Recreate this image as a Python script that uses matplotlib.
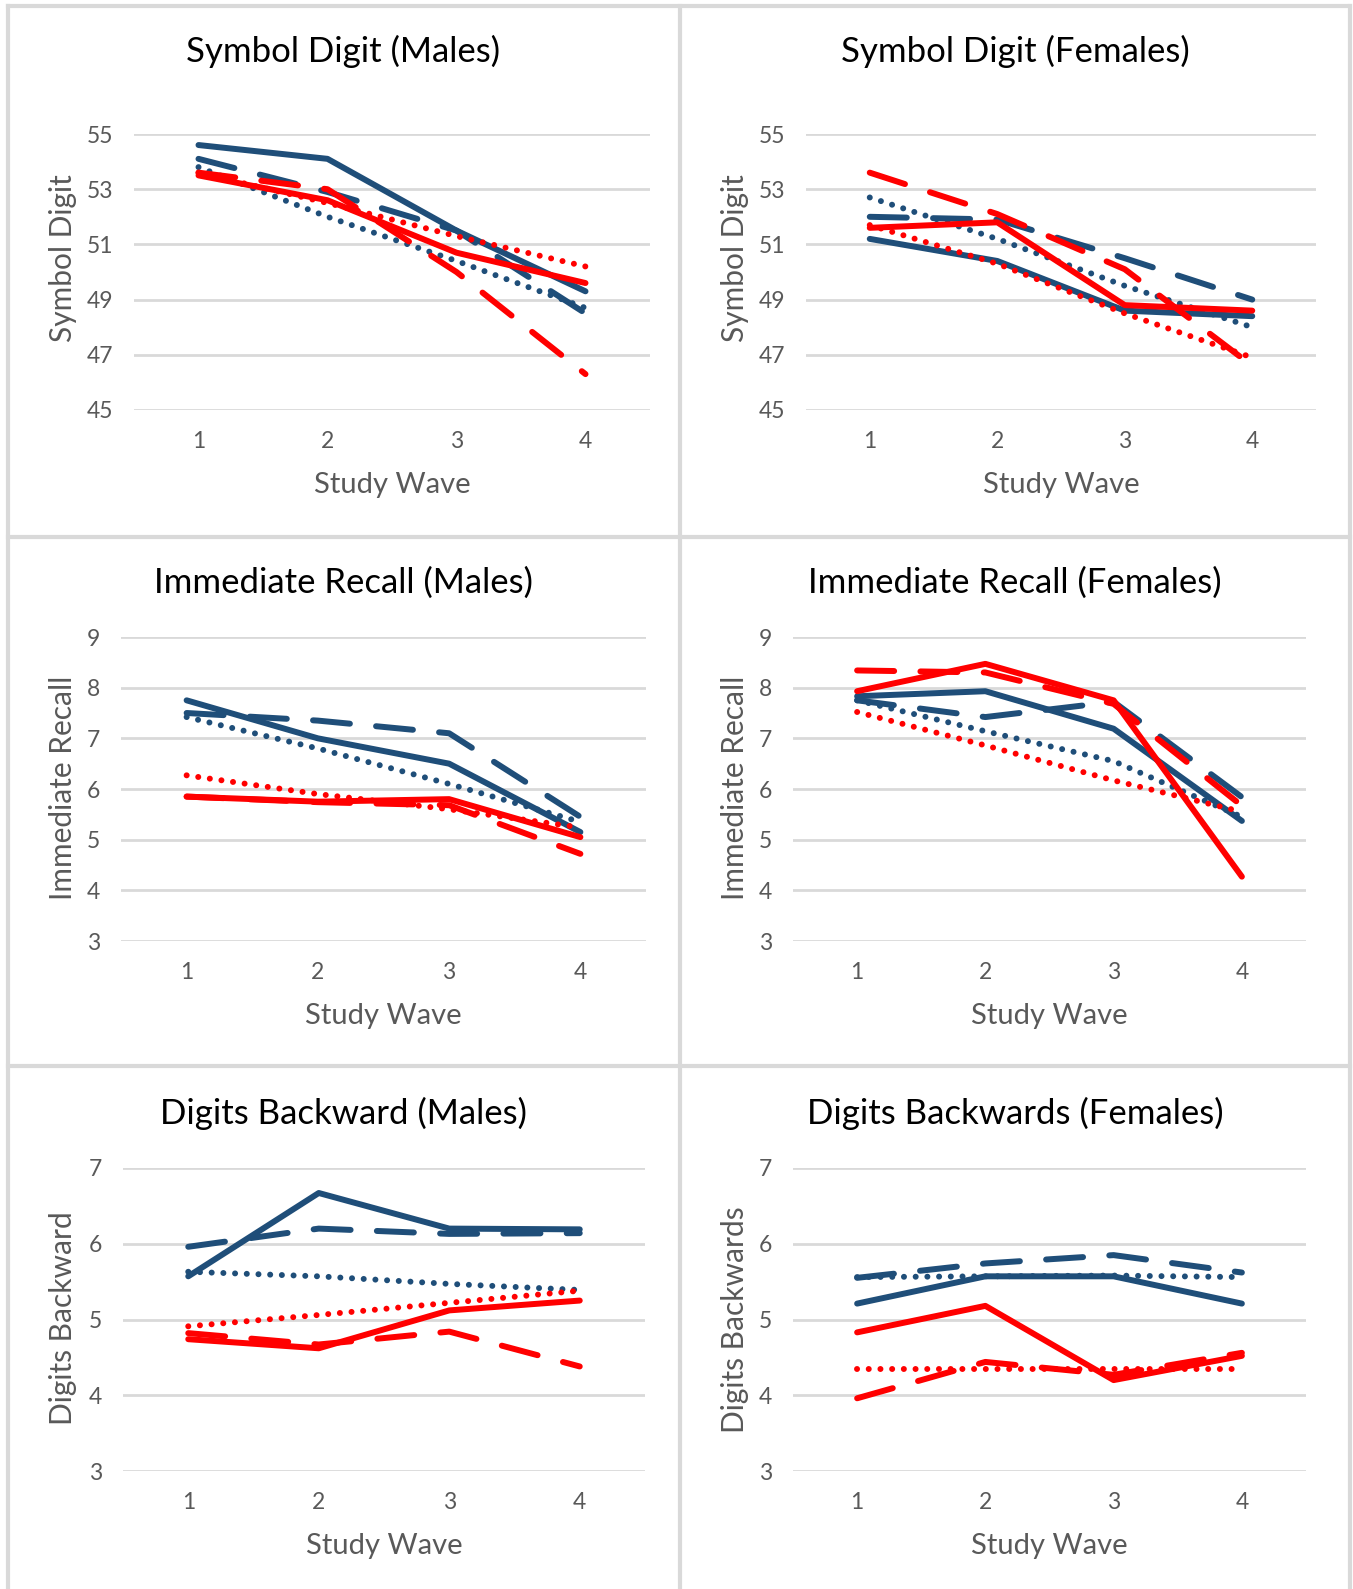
import matplotlib
matplotlib.use("Agg")
import matplotlib.pyplot as plt
from matplotlib.lines import Line2D

plt.rcParams['font.family'] = ['Lato', 'DejaVu Sans']

waves = [1, 2, 3, 4]

# Symbol Digit (Males)
sdm_blue_solid = [54.6, 54.1, 51.5, 49.3]
sdm_blue_dash = [54.1, 52.9, 51.5, 48.5]
sdm_blue_dot = [53.8, 52.0, 50.4, 48.7]
sdm_red_solid = [53.5, 52.6, 50.7, 49.6]
sdm_red_dash = [53.6, 53.0, 50.0, 46.3]
sdm_red_dot = [53.6, 52.5, 51.3, 50.2]

# Symbol Digit (Females)
sdf_blue_solid = [51.2, 50.4, 48.6, 48.4]
sdf_blue_dash = [52.0, 51.9, 50.5, 49.0]
sdf_blue_dot = [52.7, 51.2, 49.5, 48.0]
sdf_red_solid = [51.6, 51.8, 48.8, 48.6]
sdf_red_dash = [53.6, 52.1, 50.1, 46.6]
sdf_red_dot = [51.7, 50.3, 48.5, 46.9]

# Immediate Recall (Males)
irm_blue_solid = [7.75, 7.0, 6.5, 5.15]
irm_blue_dash = [7.5, 7.35, 7.1, 5.45]
irm_blue_dot = [7.42, 6.8, 6.1, 5.35]
irm_red_solid = [5.85, 5.75, 5.8, 5.05]
irm_red_dash = [5.85, 5.74, 5.68, 4.72]
irm_red_dot = [6.27, 5.9, 5.6, 5.24]

# Immediate Recall (Females)
irf_blue_solid = [7.83, 7.93, 7.19, 5.37]
irf_blue_dash = [7.75, 7.42, 7.72, 5.84]
irf_blue_dot = [7.75, 7.14, 6.55, 5.45]
irf_red_solid = [7.93, 8.47, 7.75, 4.27]
irf_red_dash = [8.34, 8.3, 7.68, 5.67]
irf_red_dot = [7.52, 6.86, 6.17, 5.55]

# Digits Backward (Males)
dbm_blue_solid = [5.57, 6.67, 6.2, 6.19]
dbm_blue_dash = [5.96, 6.2, 6.13, 6.14]
dbm_blue_dot = [5.63, 5.57, 5.47, 5.39]
dbm_red_solid = [4.74, 4.62, 5.12, 5.25]
dbm_red_dash = [4.82, 4.67, 4.84, 4.38]
dbm_red_dot = [4.91, 5.06, 5.22, 5.38]

# Digits Backwards (Females)
dbf_blue_solid = [5.21, 5.57, 5.57, 5.21]
dbf_blue_dash = [5.55, 5.74, 5.85, 5.62]
dbf_blue_dot = [5.56, 5.57, 5.58, 5.56]
dbf_red_solid = [4.83, 5.18, 4.2, 4.52]
dbf_red_dash = [3.96, 4.44, 4.27, 4.56]
dbf_red_dot = [4.35, 4.35, 4.35, 4.35]

BLUE = '#1F4E79'
RED = '#FF0000'
GRID = '#D9D9D9'
GRAY = '#595959'
LW = 4.3

W, H = 1353, 1589
fig = plt.figure(figsize=(W / 100, H / 100), dpi=100)


def px_axes(l, t, r, b):
    return fig.add_axes([l / W, 1 - b / H, (r - l) / W, (b - t) / H])


def draw(ax, series, ylim, yticks):
    for y, color, style in series:
        if style == 'solid':
            ax.plot(waves, y, color=color, lw=LW, solid_capstyle='round',
                    solid_joinstyle='round')
        elif style == 'dash':
            ax.plot(waves, y, color=color, lw=LW, dashes=(6.2, 4.4),
                    dash_capstyle='round')
        else:
            ax.plot(waves, y, color=color, lw=LW, dashes=(0.01, 1.95),
                    dash_capstyle='round')
    ax.set_xlim(0.5, 4.5)
    ax.set_ylim(*ylim)
    ax.set_xticks(waves)
    ax.set_yticks(yticks)
    ax.grid(axis='y', color=GRID, lw=2)
    ax.set_axisbelow(True)
    for s in ax.spines.values():
        s.set_visible(False)
    ax.tick_params(length=0, labelsize=16.5, colors=GRAY, pad=15)


panels = [
    # title, ylabel, series, ylim, yticks, axes box, title pos, ylabel (x, y)
    ('Symbol Digit (Males)', 'Symbol Digit',
     [sdm_blue_solid, sdm_blue_dash, sdm_blue_dot, sdm_red_solid, sdm_red_dash, sdm_red_dot],
     (45, 55), [45, 47, 49, 51, 53, 55], (134, 134, 650, 410), (343, 51), (63, 258)),
    ('Symbol Digit (Females)', 'Symbol Digit',
     [sdf_blue_solid, sdf_blue_dash, sdf_blue_dot, sdf_red_solid, sdf_red_dash, sdf_red_dot],
     (45, 55), [45, 47, 49, 51, 53, 55], (806, 134, 1316, 410), (1015, 51), (735, 258)),
    ('Immediate Recall (Males)', 'Immediate Recall',
     [irm_blue_solid, irm_blue_dash, irm_blue_dot, irm_red_solid, irm_red_dash, irm_red_dot],
     (3, 9), [3, 4, 5, 6, 7, 8, 9], (121, 637, 646, 941), (343, 583), (63, 788)),
    ('Immediate Recall (Females)', 'Immediate Recall',
     [irf_blue_solid, irf_blue_dash, irf_blue_dot, irf_red_solid, irf_red_dash, irf_red_dot],
     (3, 9), [3, 4, 5, 6, 7, 8, 9], (793, 637, 1306, 941), (1015, 583), (735, 788)),
    ('Digits Backward (Males)', 'Digits Backward',
     [dbm_blue_solid, dbm_blue_dash, dbm_blue_dot, dbm_red_solid, dbm_red_dash, dbm_red_dot],
     (3, 7), [3, 4, 5, 6, 7], (123, 1168, 645, 1471), (343, 1113), (63, 1318)),
    ('Digits Backwards (Females)', 'Digits Backwards',
     [dbf_blue_solid, dbf_blue_dash, dbf_blue_dot, dbf_red_solid, dbf_red_dash, dbf_red_dot],
     (3, 7), [3, 4, 5, 6, 7], (793, 1168, 1306, 1471), (1015, 1113), (735, 1320)),
]

styles = [(BLUE, 'solid'), (BLUE, 'dash'), (BLUE, 'dot'),
          (RED, 'solid'), (RED, 'dash'), (RED, 'dot')]

for title, ylabel, data, ylim, yticks, box, tpos, ylpos in panels:
    l, t, r, b = box
    ax = px_axes(l, t, r, b)
    draw(ax, [(d, c, s) for d, (c, s) in zip(data, styles)], ylim, yticks)
    fig.text(tpos[0] / W, 1 - tpos[1] / H, title, fontsize=25, color='black',
             ha='center', va='center')
    fig.text(ylpos[0] / W, 1 - ylpos[1] / H, ylabel, fontsize=21.5, color=GRAY,
             rotation=90, ha='center', va='center')
    fig.text((l + r) / 2 / W, 1 - (b + 75) / H, 'Study Wave', fontsize=21,
             color=GRAY, ha='center', va='center')

# panel borders
border = dict(color=GRID, lw=3, transform=fig.transFigure)
for x in (8, 680, 1350):
    fig.add_artist(Line2D([x / W, x / W], [0, 1 - 6 / H], **border))
for y in (6, 537, 1066):
    fig.add_artist(Line2D([8 / W, 1350 / W], [1 - y / H, 1 - y / H], **border))

fig.savefig('out.png', dpi=100)
